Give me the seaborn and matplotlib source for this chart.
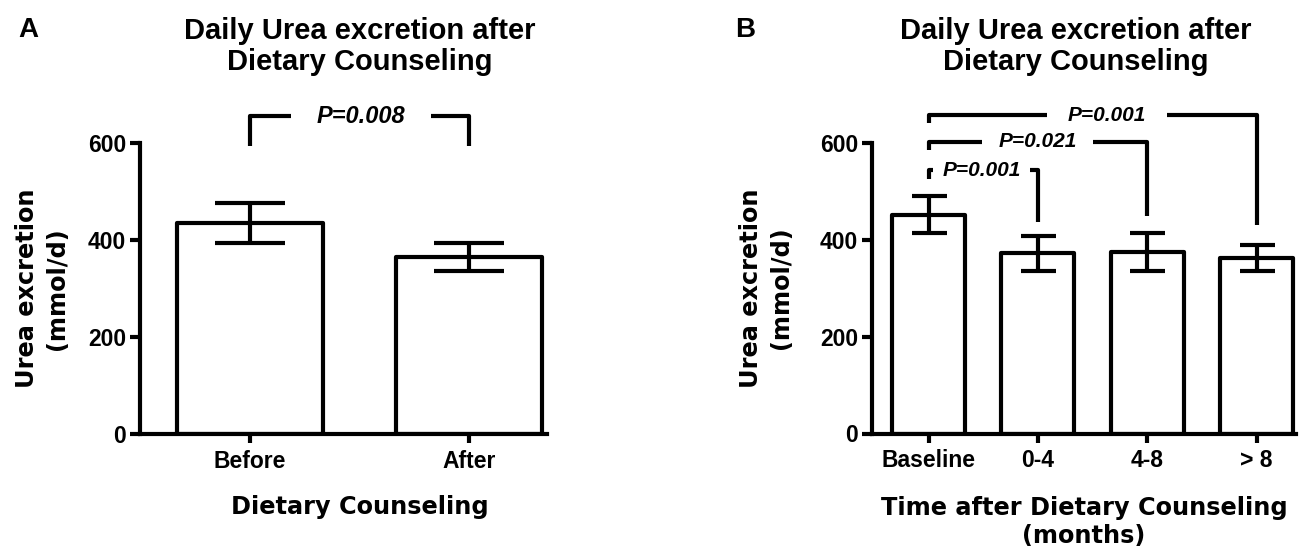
import matplotlib
matplotlib.use("Agg")
import matplotlib.pyplot as plt
import seaborn as sns
import pandas as pd
import numpy as np

# ---------------- data ----------------
cats_a = ["Before", "After"]
mean_a = [435, 365]
sem_a = [42, 29]
p_a = ["P=0.008"]
brk_a_y = [655]          # bracket heights (data units)
brk_a_legs = [(593, 593)]

cats_b = ["Baseline", "0-4", "4-8", "> 8"]
mean_b = [451, 372, 374, 362]
sem_b = [38, 36, 39, 26]
p_b = ["P=0.001", "P=0.021", "P=0.001"]
brk_b_pairs = [(0, 1), (0, 2), (0, 3)]
brk_b_y = [543, 602, 657]
brk_b_legs = [(525, 437), (585, 449), (640, 430)]

yticks = [0, 200, 400, 600]

# ---------------- style ----------------
sns.set_theme(style="ticks")
plt.rcParams["font.family"] = ["Liberation Sans", "DejaVu Sans"]
plt.rcParams["font.weight"] = "bold"
plt.rcParams["axes.labelweight"] = "bold"
for k in ["text.color", "axes.labelcolor", "xtick.color", "ytick.color",
          "axes.edgecolor"]:
    plt.rcParams[k] = "black"

W, H = 1301, 547
fig = plt.figure(figsize=(W / 100, H / 100), dpi=100)

LW = 3.0
LABEL_FONT = dict(family=["DejaVu Sans"], size=17.3, weight="bold")


def px_axes(l, r, b, t):
    return [l / W, 1 - b / H, (r - l) / W, (b - t) / H]


axA = fig.add_axes(px_axes(140, 547, 434, 143))
axB = fig.add_axes(px_axes(872, 1296, 433.5, 142.7))


def style_axis(ax, cats, xlim):
    ax.set_ylim(0, 600)
    ax.set_xlim(*xlim)
    ax.set_yticks(yticks)
    ax.set_yticklabels([str(v) for v in yticks])
    sns.despine(ax=ax)
    for s in ["left", "bottom"]:
        ax.spines[s].set_linewidth(LW)
        ax.spines[s].set_color("black")
        ax.spines[s].set_capstyle("projecting")
    ax.tick_params(axis="y", length=7, width=LW, labelsize=16.5, pad=3, colors="black")
    ax.tick_params(axis="x", length=6.5, width=LW, labelsize=16.5, pad=5, colors="black")
    for lab in ax.get_xticklabels() + ax.get_yticklabels():
        lab.set_fontweight("bold")


def draw_bars(ax, cats, means, sems, capsize):
    df = pd.DataFrame({"cat": cats, "val": means})
    sns.barplot(data=df, x="cat", y="val", order=cats, color="white",
                edgecolor="black", linewidth=LW, width=0.667, errorbar=None,
                ax=ax, zorder=2)
    for p in ax.patches:
        p.set_joinstyle("round")
        p.set_facecolor("white")
    ax.errorbar(np.arange(len(cats)), means, yerr=sems, fmt="none",
                ecolor="black", elinewidth=LW, capsize=capsize, capthick=LW,
                zorder=3)


def bracket(ax, x0, x1, y, legs, text, gap, fs):
    kw = dict(color="black", lw=LW, clip_on=False, solid_joinstyle="round",
              solid_capstyle="butt")
    ax.plot([x0, x0, gap[0]], [legs[0], y, y], **kw)
    ax.plot([gap[1], x1, x1], [y, y, legs[1]], **kw)
    ax.text((gap[0] + gap[1]) / 2, y, text, ha="center", va="center",
            fontsize=fs, fontweight="bold", fontstyle="italic", color="black")


# ---------------- panel A ----------------
draw_bars(axA, cats_a, mean_a, sem_a, capsize=25.5)
style_axis(axA, cats_a, (-0.502, 1.356))
axA.set_xlabel("Dietary Counseling", fontdict=LABEL_FONT, va="center")
axA.xaxis.set_label_coords(0.54, -0.251)
axA.set_ylabel("Urea excretion\n(mmol/d)", fontdict=LABEL_FONT, va="center",
               ha="center", linespacing=1.3)
axA.yaxis.set_label_coords(-0.241, 0.5)
bracket(axA, 0, 1, brk_a_y[0], brk_a_legs[0], p_a[0], (0.186, 0.826), 17)

# ---------------- panel B ----------------
draw_bars(axB, cats_b, mean_b, sem_b, capsize=12.6)
style_axis(axB, cats_b, (-0.517, 3.36))
axB.set_xlabel("Time after Dietary Counseling\n(months)", fontdict=LABEL_FONT,
               va="center", linespacing=1.2)
axB.xaxis.set_label_coords(0.5, -0.305)
axB.set_ylabel("Urea excretion\n(mmol/d)", fontdict=LABEL_FONT, va="center",
               ha="center", linespacing=1.3)
axB.yaxis.set_label_coords(-0.25, 0.5)
gaps_b = [(0.043, 0.929), (0.49, 1.504), (1.081, 2.177)]
for (i, j), y, legs, t, g in zip(brk_b_pairs, brk_b_y, brk_b_legs, p_b, gaps_b):
    bracket(axB, i, j, y, legs, t, g, 15)

# ---------------- titles & panel letters ----------------
fig.text(359.5 / W, 1 - 46.5 / H, "Daily Urea excretion after\nDietary Counseling",
         ha="center", va="center", fontsize=21, fontweight="bold", linespacing=1.15)
fig.text(1075.5 / W, 1 - 46.5 / H, "Daily Urea excretion after\nDietary Counseling",
         ha="center", va="center", fontsize=21, fontweight="bold", linespacing=1.15)
fig.text(18 / W, 1 - 30 / H, "A", ha="left", va="center", fontsize=20, fontweight="bold")
fig.text(735 / W, 1 - 30 / H, "B", ha="left", va="center", fontsize=20, fontweight="bold")

fig.savefig("out.png", dpi=100, facecolor="white")
